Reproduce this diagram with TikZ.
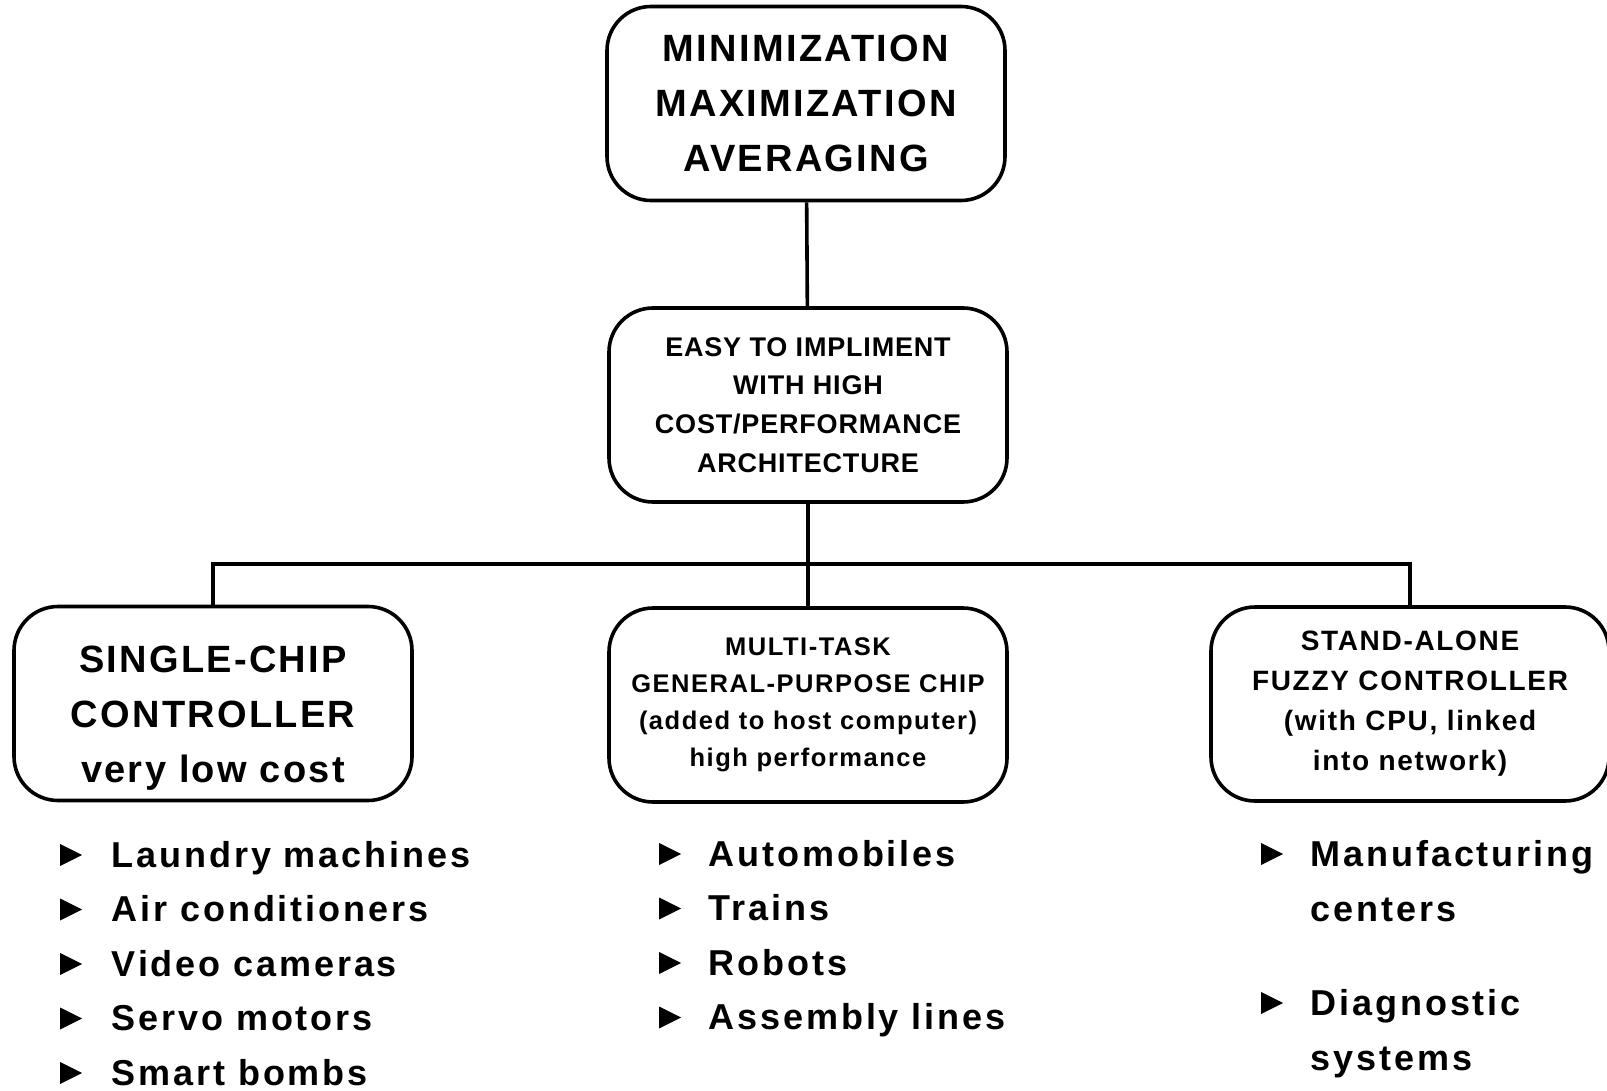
\documentclass[tikz,border=0pt]{standalone}
\usepackage{fontspec}
\setmainfont{Liberation Sans}[LetterSpace=6]
\newfontfamily\listfont{Liberation Sans}[LetterSpace=8]
\newfontfamily\tightfont{Liberation Sans}[LetterSpace=3]
\usepackage{tikz}
\usetikzlibrary{shapes.geometric}

\begin{document}
\begin{tikzpicture}[
            x = 0.5pt, y = -0.5pt, % one unit = one pixel of the scan
            line width = 1.8pt, % line style
            font = \bfseries
        ]

        \tikzset{
            box/.style = {
                draw = black,
                rounded corners = 22pt,
                align = center,
                inner sep = 0pt,
                minimum width = 199pt,
                minimum height = 97pt
            },
            bul/.style = {
                isosceles triangle,
                isosceles triangle stretches,
                fill = black,
                draw = none,
                inner sep = 0pt,
                minimum width = 11pt,
                minimum height = 11pt
            },
            item/.style = {
                anchor = base west,
                inner sep = 0pt,
                font = \listfont\bfseries\fontsize{18}{27.5}\selectfont
            }
        }

        \useasboundingbox (0,0) rectangle (1607,1091);

        \node[box, font=\bfseries\fontsize{19}{27.7}\selectfont] (rules) at (806,103.5)
            {MINIMIZATION\\MAXIMIZATION\\AVERAGING};
        \node[box, font=\tightfont\bfseries\fontsize{13.5}{19.4}\selectfont] (impl) at (808,405)
            {EASY TO IMPLIMENT\\WITH HIGH\\COST/PERFORMANCE\\ARCHITECTURE};

        \node[box, font=\bfseries\fontsize{19}{27.5}\selectfont] (single) at (213,703.5)
            {\rule{0pt}{28pt}SINGLE-CHIP\\CONTROLLER\\very low cost};
        \node[box, font=\bfseries\fontsize{12.75}{18.5}\selectfont] (multi) at (808,705)
            {MULTI-TASK\\GENERAL-PURPOSE CHIP\\(added to host computer)\\high performance};
        \node[box, font=\bfseries\fontsize{14}{20}\selectfont] (stand) at (1410,704)
            {STAND-ALONE\\FUZZY CONTROLLER\\(with CPU, linked\\into network)};

        \coordinate (split) at (808,564);

        \draw (rules) -- (impl);
        \draw (impl) -- (multi);
        \draw (single.north) -- (single.north |- split) -- (stand.north |- split) -- (stand.north);

        % applications under each controller
        \foreach \txt [count=\i] in {Laundry machines, Air conditioners, Video cameras, Servo motors, Smart bombs} {
            \node[bul] (sb\i) at (67,{855+54.5*(\i-1)}) {};
            \node[item] (si\i) at (110,{867+54.5*(\i-1)}) {\txt};
        }
        \foreach \txt [count=\i] in {Automobiles, Trains, Robots, Assembly lines} {
            \node[bul] (mb\i) at (666,{854+54.5*(\i-1)}) {};
            \node[item] (mi\i) at (707,{866+54.5*(\i-1)}) {\txt};
        }
        \node[bul] (fb1) at (1268,854) {};
        \node[item] (fi1) at (1309,866) {Manufacturing};
        \node[item] (fi2) at (1309,921) {centers};
        \node[bul] (fb2) at (1268,1003) {};
        \node[item] (fi3) at (1309,1015) {Diagnostic};
        \node[item] (fi4) at (1309,1070) {systems};

  \end{tikzpicture}
\end{document}
